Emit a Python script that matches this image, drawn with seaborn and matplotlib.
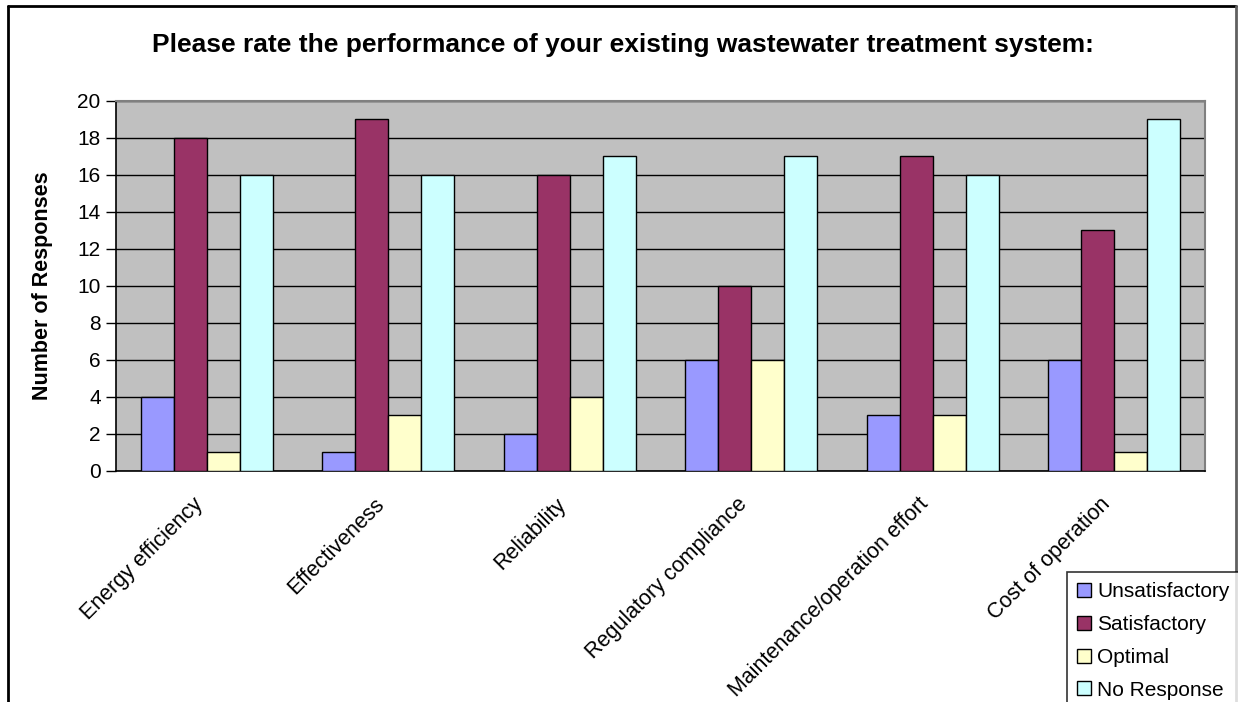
import matplotlib
matplotlib.use("Agg")
import matplotlib.pyplot as plt
from matplotlib.patches import Patch
from matplotlib.lines import Line2D
from matplotlib.transforms import ScaledTranslation
import seaborn as sns
import pandas as pd

# Survey results: performance ratings of existing wastewater treatment systems
aspects = ["Energy efficiency", "Effectiveness", "Reliability",
           "Regulatory compliance", "Maintenance/operation effort",
           "Cost of operation"]
ratings = ["Unsatisfactory", "Satisfactory", "Optimal", "No Response"]

unsatisfactory = [4, 1, 2, 6, 3, 6]
satisfactory = [18, 19, 16, 10, 17, 13]
optimal = [1, 3, 4, 6, 3, 1]
no_response = [16, 16, 17, 17, 16, 19]

yticks = list(range(0, 21, 2))

colors = {"Unsatisfactory": "#9999FF", "Satisfactory": "#993366",
          "Optimal": "#FFFFCC", "No Response": "#CCFFFF"}

rows = []
for rating, vals in zip(ratings, [unsatisfactory, satisfactory, optimal, no_response]):
    for aspect, v in zip(aspects, vals):
        rows.append({"Aspect": aspect, "Rating": rating, "Responses": v})
df = pd.DataFrame(rows)

sns.set_theme(style="white")
plt.rcParams["font.family"] = ["Liberation Sans", "DejaVu Sans"]
for key in ["text.color", "axes.labelcolor", "xtick.color", "ytick.color"]:
    plt.rcParams[key] = "black"

W, H = 1238, 702
fig = plt.figure(figsize=(W / 100, H / 100), dpi=100)
fig.patch.set_facecolor("white")

# plot area in pixel coordinates
px_l, px_r, px_t, px_b = 116, 1205, 100.5, 470.7
ax = fig.add_axes([px_l / W, 1 - px_b / H, (px_r - px_l) / W, (px_b - px_t) / H])
ax.set_facecolor("#C0C0C0")

sns.barplot(data=df, x="Aspect", y="Responses", hue="Rating",
            order=aspects, hue_order=ratings, palette=colors,
            width=4 / 5.5, dodge=True, edgecolor="black", linewidth=1,
            saturation=1, legend=False, ax=ax, zorder=3)

ax.set_xlim(-0.5, len(aspects) - 0.5)
ax.set_ylim(0, 20)
ax.set_yticks(yticks)
ax.set_yticklabels([str(t) for t in yticks], fontsize=15, color="black")
ax.yaxis.grid(True, color="black", linewidth=1)
ax.xaxis.grid(False)
ax.set_axisbelow(True)

ax.set_xticks(range(len(aspects)))
ax.set_xticks([i - 0.5 for i in range(len(aspects) + 1)], minor=True)
ax.tick_params(axis="x", which="major", length=0, pad=22)
ax.tick_params(axis="x", which="minor", length=7, width=1, color="#808080",
               direction="out")
ax.tick_params(axis="y", length=7, width=1, color="black", direction="out",
               pad=4, left=True)
ax.set_xticklabels(aspects, rotation=45, ha="right", va="center",
                   rotation_mode="anchor", fontsize=15.5, color="black")
# nudge the slanted category labels slightly left of the category centres
shift = ScaledTranslation(-7 / 100, 0, fig.dpi_scale_trans)
for lab in ax.get_xticklabels():
    lab.set_transform(lab.get_transform() + shift)
ax.set_xlabel("")
ax.set_ylabel("")

for side in ["left", "bottom"]:
    ax.spines[side].set_color("black")
    ax.spines[side].set_linewidth(1.2)
for side in ["top", "right"]:
    ax.spines[side].set_color("#808080")
    ax.spines[side].set_linewidth(1.5)

fig.text(0.503, 1 - 45 / H,
         "Please rate the performance of your existing wastewater treatment system:",
         ha="center", va="center", fontsize=19, fontweight="bold", color="black")
fig.text(43 / W, 1 - 286 / H, "Number of Responses", rotation=90,
         ha="center", va="center", fontsize=15.5, fontweight="bold", color="black")

handles = [Patch(facecolor=colors[r], edgecolor="black", linewidth=1) for r in ratings]
leg = fig.legend(handles, ratings, loc="upper left",
                 bbox_to_anchor=(1067 / W, 1 - 572 / H), frameon=True,
                 fancybox=False, edgecolor="black", fontsize=15,
                 handlelength=0.65, handleheight=0.65, handletextpad=0.3,
                 labelspacing=0.66, borderpad=0.5, borderaxespad=0)
leg.get_frame().set_linewidth(1.2)
for t in leg.get_texts():
    t.set_color("black")

# outer chart border
fig.add_artist(Line2D([8 / W, 8 / W], [0, 1 - 6 / H], transform=fig.transFigure,
                      color="black", linewidth=2))
fig.add_artist(Line2D([8 / W, 1236 / W], [1 - 6 / H, 1 - 6 / H],
                      transform=fig.transFigure, color="black", linewidth=2))
fig.add_artist(Line2D([1236 / W, 1236 / W], [0, 1 - 6 / H], transform=fig.transFigure,
                      color="#606060", linewidth=2))

fig.savefig("out.png", dpi=100)
